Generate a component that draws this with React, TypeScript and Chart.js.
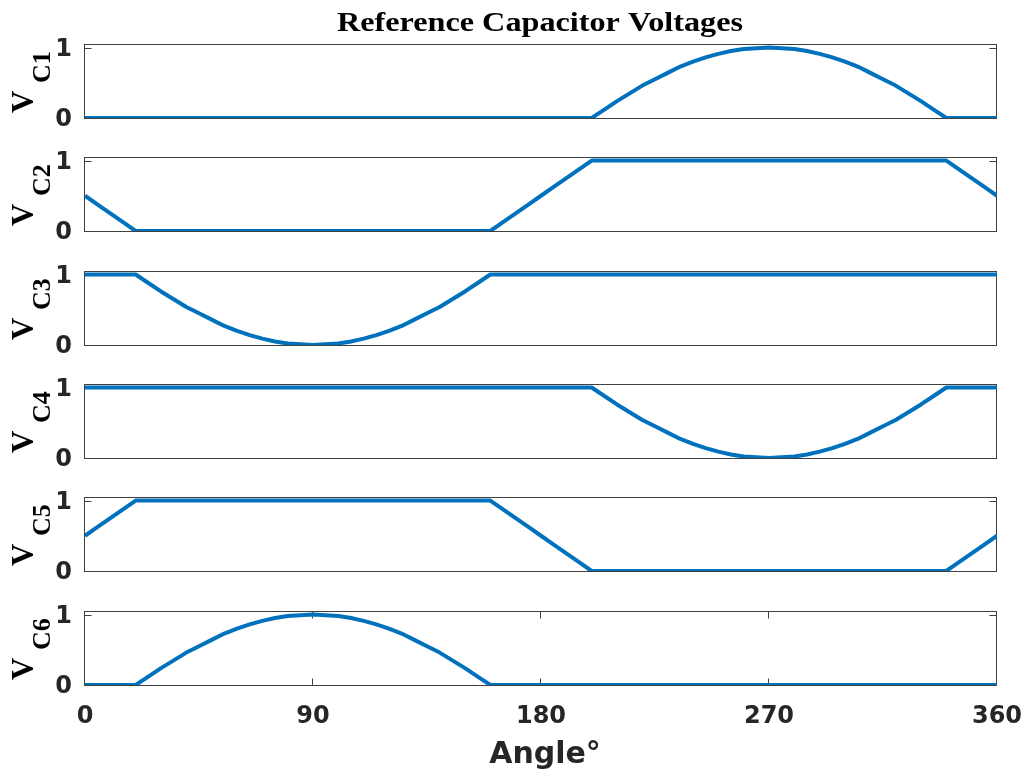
import React, { useEffect, useRef } from 'react';
import { Chart, registerables } from 'chart.js';

Chart.register(...registerables);

// Electrical angle in degrees (5° grid)
const angles = [
  0, 5, 10, 15, 20, 25, 30, 35, 40, 45,
  50, 55, 60, 65, 70, 75, 80, 85, 90, 95,
  100, 105, 110, 115, 120, 125, 130, 135, 140, 145,
  150, 155, 160, 165, 170, 175, 180, 185, 190, 195,
  200, 205, 210, 215, 220, 225, 230, 235, 240, 245,
  250, 255, 260, 265, 270, 275, 280, 285, 290, 295,
  300, 305, 310, 315, 320, 325, 330, 335, 340, 345,
  350, 355, 360,
];

// Reference voltage of each capacitor (per unit)
const vc1 = [
  0, 0, 0, 0, 0, 0, 0, 0, 0, 0,
  0, 0, 0, 0, 0, 0, 0, 0, 0, 0,
  0, 0, 0, 0, 0, 0, 0, 0, 0, 0,
  0, 0, 0, 0, 0, 0, 0, 0, 0, 0,
  0, 0.12, 0.24, 0.35, 0.46, 0.55, 0.64, 0.73, 0.8, 0.86,
  0.91, 0.95, 0.98, 0.99, 1, 0.99, 0.98, 0.95, 0.91, 0.86,
  0.8, 0.73, 0.64, 0.55, 0.46, 0.35, 0.24, 0.12, 0, 0,
  0, 0, 0,
];

const vc2 = [
  0.5, 0.375, 0.25, 0.125, 0, 0, 0, 0, 0, 0,
  0, 0, 0, 0, 0, 0, 0, 0, 0, 0,
  0, 0, 0, 0, 0, 0, 0, 0, 0, 0,
  0, 0, 0, 0.125, 0.25, 0.375, 0.5, 0.625, 0.75, 0.875,
  1, 1, 1, 1, 1, 1, 1, 1, 1, 1,
  1, 1, 1, 1, 1, 1, 1, 1, 1, 1,
  1, 1, 1, 1, 1, 1, 1, 1, 1, 0.875,
  0.75, 0.625, 0.5,
];

const vc3 = [
  1, 1, 1, 1, 1, 0.88, 0.76, 0.65, 0.54, 0.45,
  0.36, 0.27, 0.2, 0.14, 0.09, 0.05, 0.02, 0.01, 0, 0.01,
  0.02, 0.05, 0.09, 0.14, 0.2, 0.27, 0.36, 0.45, 0.54, 0.65,
  0.76, 0.88, 1, 1, 1, 1, 1, 1, 1, 1,
  1, 1, 1, 1, 1, 1, 1, 1, 1, 1,
  1, 1, 1, 1, 1, 1, 1, 1, 1, 1,
  1, 1, 1, 1, 1, 1, 1, 1, 1, 1,
  1, 1, 1,
];

const vc4 = [
  1, 1, 1, 1, 1, 1, 1, 1, 1, 1,
  1, 1, 1, 1, 1, 1, 1, 1, 1, 1,
  1, 1, 1, 1, 1, 1, 1, 1, 1, 1,
  1, 1, 1, 1, 1, 1, 1, 1, 1, 1,
  1, 0.88, 0.76, 0.65, 0.54, 0.45, 0.36, 0.27, 0.2, 0.14,
  0.09, 0.05, 0.02, 0.01, 0, 0.01, 0.02, 0.05, 0.09, 0.14,
  0.2, 0.27, 0.36, 0.45, 0.54, 0.65, 0.76, 0.88, 1, 1,
  1, 1, 1,
];

const vc5 = [
  0.5, 0.625, 0.75, 0.875, 1, 1, 1, 1, 1, 1,
  1, 1, 1, 1, 1, 1, 1, 1, 1, 1,
  1, 1, 1, 1, 1, 1, 1, 1, 1, 1,
  1, 1, 1, 0.875, 0.75, 0.625, 0.5, 0.375, 0.25, 0.125,
  0, 0, 0, 0, 0, 0, 0, 0, 0, 0,
  0, 0, 0, 0, 0, 0, 0, 0, 0, 0,
  0, 0, 0, 0, 0, 0, 0, 0, 0, 0.125,
  0.25, 0.375, 0.5,
];

const vc6 = [
  0, 0, 0, 0, 0, 0.12, 0.24, 0.35, 0.46, 0.55,
  0.64, 0.73, 0.8, 0.86, 0.91, 0.95, 0.98, 0.99, 1, 0.99,
  0.98, 0.95, 0.91, 0.86, 0.8, 0.73, 0.64, 0.55, 0.46, 0.35,
  0.24, 0.12, 0, 0, 0, 0, 0, 0, 0, 0,
  0, 0, 0, 0, 0, 0, 0, 0, 0, 0,
  0, 0, 0, 0, 0, 0, 0, 0, 0, 0,
  0, 0, 0, 0, 0, 0, 0, 0, 0, 0,
  0, 0, 0,
];

const capacitorSeries = [vc1, vc2, vc3, vc4, vc5, vc6];
const capacitorNames = ['1', '2', '3', '4', '5', '6'];

const xTicks = [0, 90, 180, 270, 360];
const yTicks = [0, 1];

const chartTitle = 'Reference Capacitor Voltages';
const xAxisTitle = 'Angle°';

// Layout of the stacked panels (page pixels)
const PAGE_W = 1029;
const PAGE_H = 775;
const PLOT_LEFT = 85;
const PLOT_RIGHT = 997;
const PLOT_TOPS = [44, 157, 271, 384, 497, 611];
const PLOT_H = 74;
const PAD = 20;
const Y_MAX = 1.05;

const LINE_COLOR = '#0072BD';
const AXIS_COLOR = '#404040';
const TEXT_COLOR = '#262626';
const SANS = '"DejaVu Sans", "Liberation Sans", Arial, sans-serif';
const SERIF = '"Liberation Serif", "Times New Roman", serif';

function panelGeometry(index: number) {
  const last = index === PLOT_TOPS.length - 1;
  const padTop = index === 0 ? PLOT_TOPS[0] : PAD;
  const canvasTop = PLOT_TOPS[index] - padTop;
  const height = last ? PAGE_H - canvasTop : padTop + PLOT_H + PAD;
  return { last, padTop, canvasTop, height };
}

// Axes box plus inward tick marks, drawn beneath the trace
const framePlugin = {
  id: 'frame',
  beforeDatasetsDraw(chart: any, _args: any, opts: any) {
    const { ctx, chartArea, scales } = chart;
    const L = chartArea.left - 0.5;
    const R = chartArea.right - 0.5;
    const T = chartArea.top + 0.5;
    const B = chartArea.bottom + 0.5;
    ctx.save();
    ctx.strokeStyle = AXIS_COLOR;
    ctx.lineWidth = 1;
    ctx.strokeRect(L, T, R - L, B - T);
    ctx.beginPath();
    const len = 7;
    for (const v of yTicks) {
      const py = Math.round(scales.y.getPixelForValue(v)) + 0.5;
      ctx.moveTo(L, py);
      ctx.lineTo(L + len, py);
      ctx.moveTo(R, py);
      ctx.lineTo(R - len, py);
    }
    if (opts.xTicks) {
      for (const v of xTicks) {
        const px = Math.round(scales.x.getPixelForValue(v)) - 0.5;
        ctx.moveTo(px, B);
        ctx.lineTo(px, B - len);
        ctx.moveTo(px, T);
        ctx.lineTo(px, T + len);
      }
    }
    ctx.stroke();
    ctx.restore();
  },
};

// Rotated "V_Cn" label, the figure title and the angle axis title
const labelPlugin = {
  id: 'labels',
  afterDraw(chart: any, _args: any, opts: any) {
    const { ctx, chartArea } = chart;
    const cy = (chartArea.top + chartArea.bottom) / 2;
    ctx.save();
    ctx.fillStyle = '#000';
    ctx.textBaseline = 'alphabetic';
    ctx.textAlign = 'left';
    ctx.translate(0, cy + 32);
    ctx.rotate(-Math.PI / 2);
    ctx.font = `bold 31px ${SERIF}`;
    ctx.fillText('V', 0, 33);
    ctx.font = `bold 26px ${SERIF}`;
    ctx.fillText('C' + opts.name, 30, 50);
    ctx.restore();

    if (opts.title) {
      ctx.save();
      ctx.fillStyle = '#000';
      ctx.textAlign = 'center';
      ctx.textBaseline = 'alphabetic';
      ctx.font = `bold 28px ${SERIF}`;
      ctx.translate(540, 31);
      ctx.scale(1.15, 1);
      ctx.fillText(opts.title, 0, 0);
      ctx.restore();
    }

    if (opts.xTitle) {
      ctx.save();
      ctx.fillStyle = TEXT_COLOR;
      ctx.textAlign = 'center';
      ctx.textBaseline = 'alphabetic';
      ctx.font = `bold 30px ${SANS}`;
      ctx.fillText(opts.xTitle, (chartArea.left + chartArea.right) / 2 + 4, chartArea.bottom + 78);
      ctx.restore();
    }
  },
};

function Panel({ index }: { index: number }) {
  const ref = useRef<HTMLCanvasElement>(null);
  const { last, padTop, canvasTop, height } = panelGeometry(index);

  useEffect(() => {
    const canvas = ref.current;
    if (!canvas) return;
    const values = capacitorSeries[index];
    const chart = new Chart(canvas, {
      type: 'line',
      data: {
        datasets: [
          {
            data: angles.map((a, i) => ({ x: a, y: values[i] })),
            borderColor: LINE_COLOR,
            borderWidth: 4,
            borderJoinStyle: 'round',
            pointRadius: 0,
            fill: false,
            tension: 0,
          },
        ],
      },
      options: {
        animation: false,
        responsive: false,
        maintainAspectRatio: false,
        devicePixelRatio: 1,
        events: [],
        layout: {
          padding: {
            left: 0,
            right: PAGE_W - PLOT_RIGHT,
            top: padTop,
            bottom: last ? 0 : PAD,
          },
        },
        plugins: {
          legend: { display: false },
          tooltip: { enabled: false },
          title: { display: false },
          frame: { xTicks: last },
          labels: {
            name: capacitorNames[index],
            title: index === 0 ? chartTitle : '',
            xTitle: last ? xAxisTitle : '',
          },
        } as any,
        scales: {
          x: {
            type: 'linear',
            min: 0,
            max: 360,
            display: last,
            grid: { display: false, drawTicks: false },
            border: { display: false },
            afterBuildTicks: (s: any) => {
              s.ticks = xTicks.map((v) => ({ value: v }));
            },
            afterFit: (s: any) => {
              if (last) s.height = height - padTop - PLOT_H;
              s.paddingLeft = 0;
              s.paddingRight = 0;
            },
            ticks: {
              autoSkip: false,
              maxRotation: 0,
              padding: 17,
              color: TEXT_COLOR,
              font: { family: SANS, weight: 'bold', size: 24 },
              callback: (v: any) => String(v),
            },
          },
          y: {
            type: 'linear',
            min: 0,
            max: Y_MAX,
            grid: { display: false, drawTicks: false },
            border: { display: false },
            afterBuildTicks: (s: any) => {
              s.ticks = yTicks.map((v) => ({ value: v }));
            },
            afterFit: (s: any) => {
              s.width = PLOT_LEFT;
              s.paddingTop = 0;
              s.paddingBottom = 0;
            },
            ticks: {
              padding: 13,
              labelOffset: 2,
              color: TEXT_COLOR,
              font: { family: SANS, weight: 'bold', size: 24 },
              callback: (v: any) => String(v),
            },
          },
        },
      } as any,
      plugins: [framePlugin, labelPlugin],
    });
    return () => chart.destroy();
  }, [index]);

  return (
    <canvas
      ref={ref}
      width={PAGE_W}
      height={height}
      style={{ position: 'absolute', left: 0, top: canvasTop, width: PAGE_W, height }}
    />
  );
}

export default function App() {
  return (
    <div
      style={{
        position: 'absolute',
        left: 0,
        top: 0,
        width: PAGE_W,
        height: PAGE_H,
        background: '#fff',
        overflow: 'hidden',
      }}
    >
      {capacitorSeries.map((_, i) => (
        <Panel key={i} index={i} />
      ))}
    </div>
  );
}
